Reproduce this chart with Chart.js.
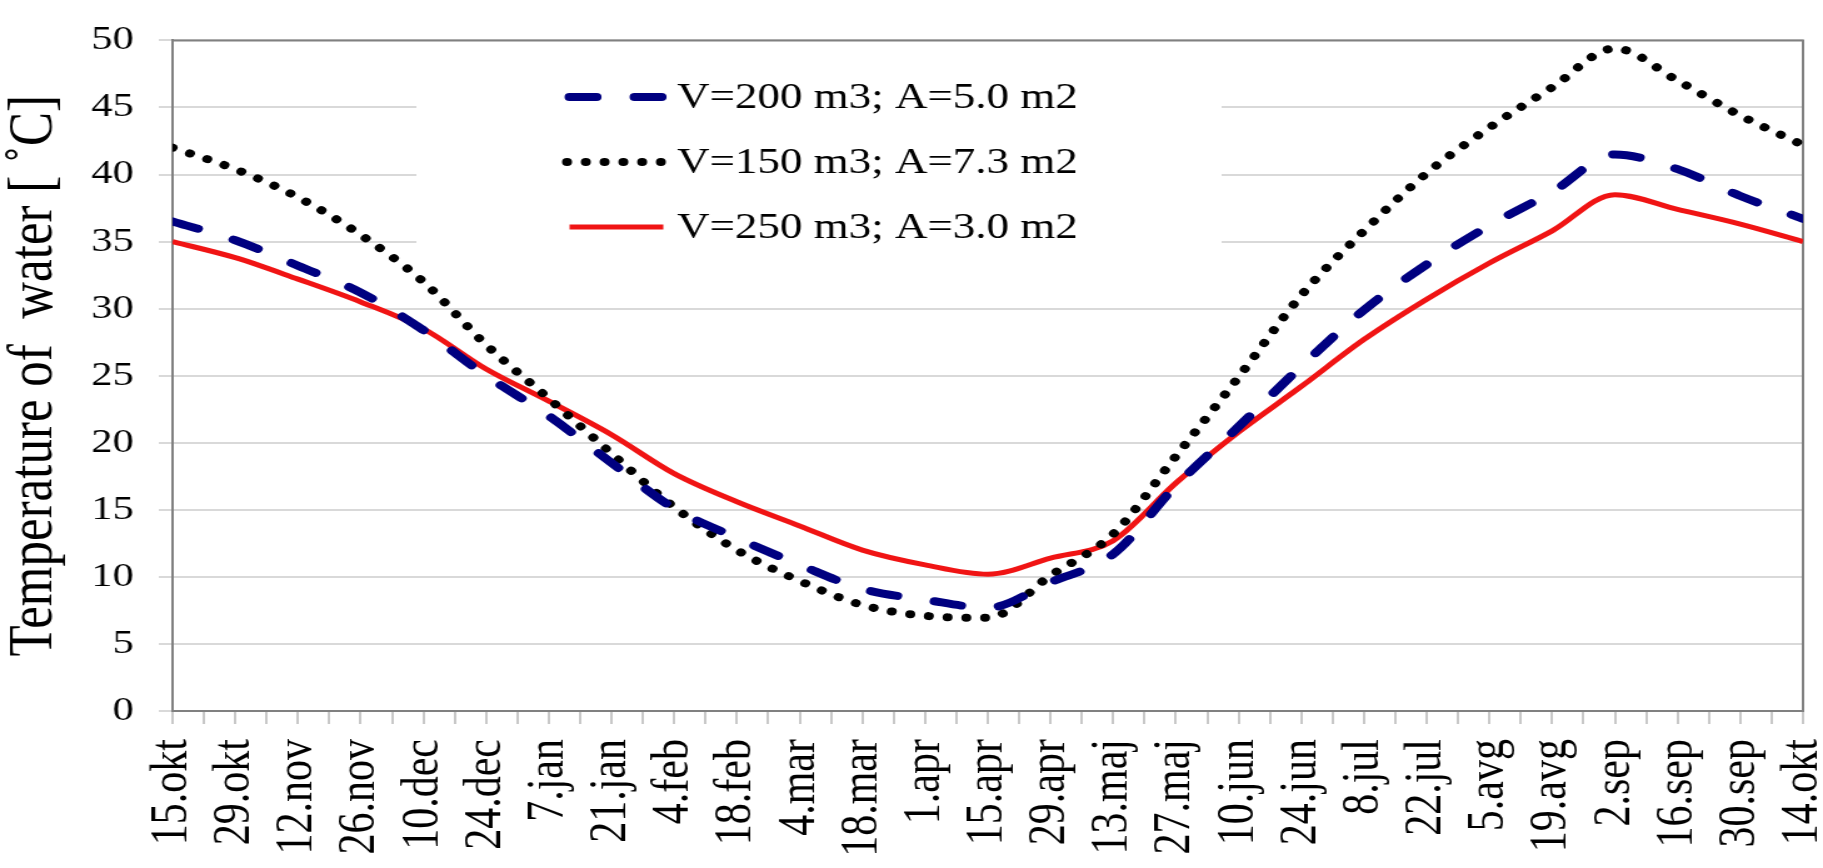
<!DOCTYPE html>
<html>
<head>
<meta charset="utf-8">
<script src="https://cdn.jsdelivr.net/npm/chart.js@4.4.0/dist/chart.umd.min.js"></script>
<style>
  html, body { margin: 0; padding: 0; background: #fff; }
  /* the source figure is a horizontally stretched export, so the canvas is drawn narrower and widened by css */
  #chart { width: 1823px; height: 868px; }
</style>
</head>
<body>
<canvas id="chart" width="1458" height="868" style="width:1823px;height:868px"></canvas>
<script>
// --- data (one value per labelled date, every 14 days) ---
const dateLabels = ['15.okt', '29.okt', '12.nov', '26.nov', '10.dec', '24.dec', '7.jan', '21.jan',
  '4.feb', '18.feb', '4.mar', '18.mar', '1.apr', '15.apr', '29.apr', '13.maj', '27.maj', '10.jun',
  '24.jun', '8.jul', '22.jul', '5.avg', '19.avg', '2.sep', '16.sep', '30.sep', '14.okt'];

const seriesNames = ['V=200 m3; A=5.0 m2', 'V=150 m3; A=7.3 m2', 'V=250 m3; A=3.0 m2'];

const tempV200 = [36.5, 35.1, 33.2, 31.2, 28.4, 25.0, 22.0, 18.5, 15.1, 12.9, 10.9, 9.1, 8.3, 7.7,
  9.6, 11.7, 16.8, 21.2, 25.7, 29.9, 33.3, 36.2, 38.7, 41.5, 40.4, 38.4, 36.7];
const tempV150 = [42.0, 40.4, 38.3, 35.5, 32.0, 27.3, 23.3, 19.2, 15.2, 12.0, 9.7, 7.9, 7.1, 6.95,
  10.1, 13.2, 19.0, 24.9, 31.0, 35.8, 40.1, 43.5, 46.5, 49.4, 47.0, 44.4, 42.2];
const tempV250 = [35.0, 33.8, 32.2, 30.5, 28.5, 25.5, 23.1, 20.6, 17.7, 15.6, 13.8, 12.0, 10.9, 10.2,
  11.4, 12.7, 17.0, 20.8, 24.2, 27.7, 30.7, 33.4, 35.8, 38.5, 37.4, 36.3, 35.0];

const yTicks = { min: 0, max: 50, step: 5 };

// x runs in weeks; every label sits two weeks apart
const toPoints = vals => vals.map((v, i) => ({ x: i * 2, y: v }));

const serif = '"Liberation Serif", "Times New Roman", serif';

// white legend box inside the plot, above the grid, below the lines
const insideLegend = {
  id: 'insideLegend',
  beforeDatasetsDraw(chart) {
    const { ctx, chartArea: a } = chart;
    ctx.save();
    // top and right frame of the plot area
    ctx.strokeStyle = '#808080';
    ctx.lineWidth = 2;
    ctx.beginPath();
    ctx.moveTo(a.left, a.top);
    ctx.lineTo(a.right, a.top);
    ctx.lineTo(a.right, a.bottom);
    ctx.stroke();

    ctx.fillStyle = '#ffffff';
    ctx.fillRect(333, 42, 644, 222);

    chart.data.datasets.forEach((ds, i) => {
      const y = 97 + i * 65;
      ctx.beginPath();
      ctx.setLineDash(ds.borderDash || []);
      ctx.lineCap = ds.borderCapStyle || 'butt';
      ctx.lineWidth = ds.borderWidth;
      ctx.strokeStyle = ds.borderColor;
      ctx.moveTo(i === 1 ? 453.5 : 455.5, y);
      ctx.lineTo(i === 1 ? 529 : 530.5, y);
      ctx.stroke();
      ctx.setLineDash([]);
      ctx.fillStyle = '#000';
      ctx.font = '36px ' + serif;
      ctx.textBaseline = 'middle';
      ctx.textAlign = 'left';
      ctx.fillText(ds.label, 541.5, y + 2);
    });
    ctx.restore();
  }
};

new Chart(document.getElementById('chart'), {
  type: 'line',
  data: {
    datasets: [
      {
        label: seriesNames[0],
        data: toPoints(tempV200),
        borderColor: '#000080',
        borderWidth: 8,
        borderDash: [21.6, 30.4],
        borderCapStyle: 'round',
        pointRadius: 0,
        cubicInterpolationMode: 'monotone'
      },
      {
        label: seriesNames[1],
        data: toPoints(tempV150),
        borderColor: '#000000',
        borderWidth: 8,
        borderDash: [0.01, 15],
        borderCapStyle: 'round',
        pointRadius: 0,
        cubicInterpolationMode: 'monotone'
      },
      {
        label: seriesNames[2],
        data: toPoints(tempV250),
        borderColor: '#f01414',
        borderWidth: 5,
        pointRadius: 0,
        cubicInterpolationMode: 'monotone'
      }
    ]
  },
  options: {
    responsive: false,
    animation: false,
    devicePixelRatio: 1,
    layout: { padding: { left: 0, right: 16, top: 31, bottom: 0 } },
    plugins: {
      legend: { display: false },
      tooltip: { enabled: false }
    },
    scales: {
      x: {
        type: 'linear',
        min: 0,
        max: (dateLabels.length - 1) * 2,
        afterFit(scale) {
          scale.height = 157;
          scale.paddingLeft = 0;
          scale.paddingRight = 0;
        },
        ticks: {
          stepSize: 1,
          maxTicksLimit: 200,
          autoSkip: false,
          minRotation: 90,
          maxRotation: 90,
          padding: 15,
          color: '#000',
          font: { family: serif, size: 42 },
          callback: v => (v % 2 === 0 ? dateLabels[v / 2] : '')
        },
        grid: { drawOnChartArea: false, tickLength: 13, color: '#c8c8c8', lineWidth: 2 },
        border: { color: '#808080', width: 2 }
      },
      y: {
        min: yTicks.min,
        max: yTicks.max,
        afterFit(scale) { scale.width = 138; },
        ticks: {
          stepSize: yTicks.step,
          padding: 20,
          color: '#000',
          font: { family: serif, size: 34 }
        },
        grid: { color: '#d9d9d9', lineWidth: 2, tickLength: 11 },
        border: { color: '#808080', width: 2 },
        title: {
          display: true,
          text: 'Temperature of  water [ \u02DAC]',
          color: '#000',
          padding: { top: 2.5, bottom: 0 },
          font: { family: serif, size: 51, lineHeight: 1 }
        }
      }
    }
  },
  plugins: [insideLegend]
});
</script>
</body>
</html>
